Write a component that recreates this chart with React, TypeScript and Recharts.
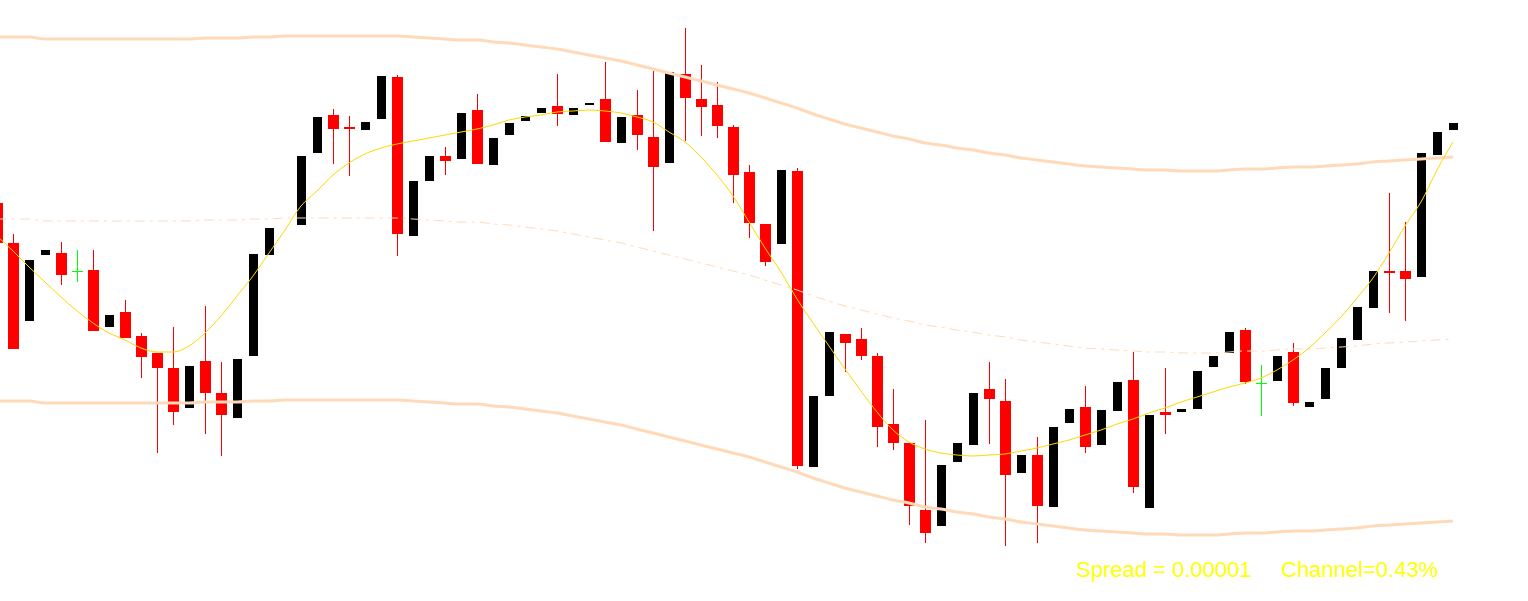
import React from "react";
import { ComposedChart, Bar, Line, XAxis, YAxis } from "recharts";

// slot index of each bar (slot -1 is the partly visible bar on the left edge; slot 17 has no bar)
const slots: number[] = Array.from({ length: 92 }, (_, i) => i - 1);

const opens: (number | null)[] = [
  1.08397, 1.08357, 1.08279, 1.08345, 1.08347, 1.08329, 1.0833, 1.08273, 1.08288, 1.08264,
  1.08247, 1.08232, 1.08192, 1.08239, 1.08207, 1.08182, 1.08244, 1.08345, null, 1.08375,
  1.08447, 1.08485, 1.08473, 1.0847, 1.08481, 1.08523, 1.08364, 1.08419, 1.08444, 1.08441,
  1.0849, 1.08435, 1.08465, 1.08479, 1.08487, 1.08494, 1.08485, 1.08495, 1.08501, 1.08457,
  1.08485, 1.08463, 1.08437, 1.08526, 1.08501, 1.08495, 1.08473, 1.08428, 1.08376, 1.08356,
  1.08429, 1.08133, 1.08204, 1.08266, 1.08261, 1.08244, 1.08176, 1.08157, 1.0809, 1.08074,
  1.08138, 1.08155, 1.08211, 1.08199, 1.08127, 1.08145, 1.08093, 1.08177, 1.08193, 1.08155,
  1.08189, 1.0822, 1.08092, 1.08188, 1.08188, 1.08191, 1.08233, 1.08247, 1.0827, 1.08217,
  1.08219, 1.08248, 1.08193, 1.08201, 1.08232, 1.0826, 1.08292, 1.08329, 1.08329, 1.08323,
  1.08445, 1.0847,
];

const highs: (number | null)[] = [
  1.08397, 1.08366, 1.0834, 1.0835, 1.08358, 1.0835, 1.0835, 1.08285, 1.083, 1.08267,
  1.08247, 1.08273, 1.08234, 1.08294, 1.08238, 1.08241, 1.08346, 1.08372, null, 1.08444,
  1.08483, 1.08491, 1.08484, 1.08478, 1.08524, 1.08525, 1.08419, 1.08444, 1.08453, 1.08487,
  1.08506, 1.08462, 1.08477, 1.08484, 1.08492, 1.08526, 1.08492, 1.08497, 1.08538, 1.08483,
  1.0851, 1.08529, 1.08528, 1.08572, 1.08535, 1.08518, 1.08475, 1.08435, 1.08376, 1.0843,
  1.08432, 1.08204, 1.08268, 1.08266, 1.08272, 1.08247, 1.08211, 1.08157, 1.0818, 1.08135,
  1.08157, 1.08207, 1.08238, 1.08221, 1.08145, 1.08163, 1.08173, 1.08191, 1.08214, 1.0819,
  1.08218, 1.08248, 1.08185, 1.08232, 1.08191, 1.08229, 1.08244, 1.08268, 1.08272, 1.08235,
  1.08244, 1.08257, 1.08198, 1.08232, 1.08262, 1.08293, 1.08329, 1.08407, 1.08378, 1.08447,
  1.08468, 1.08477,
];

const lows: (number | null)[] = [
  1.08357, 1.08251, 1.08279, 1.08345, 1.08315, 1.08318, 1.08269, 1.08273, 1.08262, 1.08222,
  1.08147, 1.08175, 1.08192, 1.08166, 1.08144, 1.08182, 1.08244, 1.08345, null, 1.08375,
  1.08447, 1.08436, 1.08424, 1.0847, 1.08481, 1.08344, 1.08364, 1.08419, 1.08425, 1.08441,
  1.08436, 1.08435, 1.08465, 1.08479, 1.08487, 1.08474, 1.08485, 1.08495, 1.08458, 1.08457,
  1.0845, 1.08369, 1.08437, 1.08459, 1.08464, 1.08462, 1.08397, 1.08362, 1.08334, 1.08356,
  1.08131, 1.08133, 1.08204, 1.08228, 1.0824, 1.08153, 1.0815, 1.08075, 1.08057, 1.08074,
  1.08138, 1.08155, 1.08156, 1.08054, 1.08127, 1.08057, 1.08093, 1.08177, 1.08147, 1.08155,
  1.08189, 1.08107, 1.08092, 1.08166, 1.08188, 1.08191, 1.08233, 1.08247, 1.08216, 1.08184,
  1.08219, 1.08194, 1.08193, 1.08201, 1.08232, 1.0826, 1.08292, 1.08287, 1.08279, 1.08323,
  1.08445, 1.0847,
];

const closes: (number | null)[] = [
  1.08357, 1.08251, 1.0834, 1.0835, 1.08325, 1.08329, 1.08269, 1.08285, 1.08262, 1.08243,
  1.08232, 1.08188, 1.08234, 1.08207, 1.08185, 1.08241, 1.08346, 1.08372, null, 1.08444,
  1.08483, 1.08471, 1.08471, 1.08478, 1.08524, 1.08366, 1.08419, 1.08444, 1.08439, 1.08487,
  1.08436, 1.08462, 1.08477, 1.08484, 1.08492, 1.08486, 1.08492, 1.08497, 1.08458, 1.08483,
  1.08465, 1.08433, 1.08528, 1.08502, 1.08493, 1.08474, 1.08425, 1.08377, 1.08338, 1.0843,
  1.08134, 1.08204, 1.08268, 1.08257, 1.08244, 1.08173, 1.08157, 1.08094, 1.08067, 1.08135,
  1.08157, 1.08207, 1.08201, 1.08125, 1.08145, 1.08094, 1.08173, 1.08191, 1.08153, 1.0819,
  1.08218, 1.08113, 1.08185, 1.08185, 1.08191, 1.08229, 1.08244, 1.08268, 1.08218, 1.08217,
  1.08244, 1.08197, 1.08198, 1.08232, 1.08262, 1.08293, 1.08329, 1.08327, 1.08321, 1.08447,
  1.08468, 1.08477,
];

const upperBand: number[] = [
  1.08563, 1.08563, 1.08563, 1.08561, 1.08561, 1.08561, 1.08561, 1.08561, 1.08561, 1.08561,
  1.08561, 1.08561, 1.08561, 1.08562, 1.08562, 1.08562, 1.08563, 1.08563, 1.08564, 1.08564,
  1.08564, 1.08564, 1.08564, 1.08564, 1.08564, 1.08564, 1.08563, 1.08562, 1.08561, 1.0856,
  1.0856, 1.08558, 1.08557, 1.08555, 1.08553, 1.08551, 1.08548, 1.08545, 1.08542, 1.08539,
  1.08535, 1.08531, 1.08527, 1.08523, 1.08519, 1.08515, 1.08511, 1.08507, 1.08502, 1.08497,
  1.08492, 1.08486, 1.08481, 1.08476, 1.08472, 1.08468, 1.08464, 1.08461, 1.08457, 1.08455,
  1.08452, 1.0845, 1.08447, 1.08445, 1.08442, 1.0844, 1.08438, 1.08436, 1.08434, 1.08433,
  1.08432, 1.08431, 1.0843, 1.0843, 1.08429, 1.08429, 1.08429, 1.0843, 1.08431, 1.08431,
  1.08432, 1.08433, 1.08433, 1.08434, 1.08435, 1.08436, 1.08438, 1.08439, 1.0844, 1.08441,
  1.08442, 1.08443,
];

const midBand: number[] = [
  1.08381, 1.08381, 1.08381, 1.08379, 1.08379, 1.08379, 1.08379, 1.08379, 1.08379, 1.08379,
  1.08379, 1.08379, 1.08379, 1.0838, 1.0838, 1.0838, 1.08381, 1.08381, 1.08382, 1.08382,
  1.08382, 1.08382, 1.08382, 1.08382, 1.08382, 1.08382, 1.08381, 1.0838, 1.08379, 1.08378,
  1.08378, 1.08376, 1.08375, 1.08373, 1.08371, 1.08369, 1.08366, 1.08363, 1.0836, 1.08357,
  1.08353, 1.08349, 1.08345, 1.08341, 1.08337, 1.08333, 1.08329, 1.08325, 1.0832, 1.08315,
  1.0831, 1.08304, 1.08299, 1.08294, 1.0829, 1.08286, 1.08282, 1.08279, 1.08275, 1.08273,
  1.0827, 1.08268, 1.08265, 1.08263, 1.0826, 1.08258, 1.08256, 1.08254, 1.08252, 1.08251,
  1.0825, 1.08249, 1.08248, 1.08248, 1.08247, 1.08247, 1.08247, 1.08248, 1.08249, 1.08249,
  1.0825, 1.08251, 1.08251, 1.08252, 1.08253, 1.08254, 1.08256, 1.08257, 1.08258, 1.08259,
  1.0826, 1.08261,
];

const lowerBand: number[] = [
  1.08199, 1.08199, 1.08199, 1.08197, 1.08197, 1.08197, 1.08197, 1.08197, 1.08197, 1.08197,
  1.08197, 1.08197, 1.08197, 1.08198, 1.08198, 1.08198, 1.08199, 1.08199, 1.082, 1.082,
  1.082, 1.082, 1.082, 1.082, 1.082, 1.082, 1.08199, 1.08198, 1.08197, 1.08196,
  1.08196, 1.08194, 1.08193, 1.08191, 1.08189, 1.08187, 1.08184, 1.08181, 1.08178, 1.08175,
  1.08171, 1.08167, 1.08163, 1.08159, 1.08155, 1.08151, 1.08147, 1.08143, 1.08138, 1.08133,
  1.08128, 1.08122, 1.08117, 1.08112, 1.08108, 1.08104, 1.081, 1.08097, 1.08093, 1.08091,
  1.08088, 1.08086, 1.08083, 1.08081, 1.08078, 1.08076, 1.08074, 1.08072, 1.0807, 1.08069,
  1.08068, 1.08067, 1.08066, 1.08066, 1.08065, 1.08065, 1.08065, 1.08066, 1.08067, 1.08067,
  1.08068, 1.08069, 1.08069, 1.0807, 1.08071, 1.08072, 1.08074, 1.08075, 1.08076, 1.08077,
  1.08078, 1.08079,
];

const maLine: number[] = [
  1.08364, 1.08349, 1.08333, 1.08318, 1.08303, 1.08289, 1.08277, 1.08267, 1.0826, 1.08252,
  1.08248, 1.08248, 1.08254, 1.08267, 1.08284, 1.08304, 1.08324, 1.08347, 1.0837, 1.08394,
  1.08409, 1.08425, 1.08437, 1.08446, 1.08452, 1.08456, 1.08459, 1.08462, 1.08465, 1.08468,
  1.08471, 1.08475, 1.0848, 1.08483, 1.08485, 1.08488, 1.08489, 1.0849, 1.08489, 1.08487,
  1.08483, 1.08478, 1.08468, 1.08458, 1.08443, 1.08425, 1.08404, 1.08378, 1.08352, 1.08328,
  1.08301, 1.08277, 1.08254, 1.08231, 1.08209, 1.08188, 1.0817, 1.08158, 1.08151, 1.08147,
  1.08145, 1.08144, 1.08145, 1.08146, 1.08149, 1.08152, 1.08156, 1.0816, 1.08165, 1.0817,
  1.08176, 1.08181, 1.08187, 1.08192, 1.08198, 1.08203, 1.08208, 1.08213, 1.08217, 1.08222,
  1.0823, 1.0824, 1.08252, 1.08267, 1.08283, 1.08302, 1.08322, 1.08347, 1.08374, 1.08398,
  1.0843, 1.08458,
];

const spreadLabel = "Spread = 0.00001";
const channelLabel = "Channel=0.43%";

const RED = "#FF0000";
const BLACK = "#000000";
const GREEN = "#00FF00";
const BAND = "#FFDAB9";
const MA_COLOR = "#FFD700";

const data = slots.map((s, i) => ({
  slot: s,
  open: opens[i],
  high: highs[i],
  low: lows[i],
  close: closes[i],
  range: highs[i] == null || lows[i] == null ? null : [lows[i], highs[i]],
  upper: upperBand[i],
  mid: midBand[i],
  lower: lowerBand[i],
  ma: maLine[i],
}));

const Candle = (props: any) => {
  const { x, y, width, height, payload } = props;
  if (!payload || payload.high == null) return null;
  const { open, close, high, low } = payload;
  // snap to the pixel grid of the 16px slot
  const start = Math.round(x + width / 2 - 8);
  const span = high - low;
  const k = span > 0 ? height / span : 0;
  const yOf = (v: number) => Math.round(y + (high - v) * k);
  const top = yOf(Math.max(open, close));
  const bottom = yOf(Math.min(open, close));
  const wTop = yOf(high);
  const wBot = yOf(low);
  if (open === close) {
    return (
      <g shapeRendering="crispEdges">
        <rect x={start + 7} y={wTop} width={1} height={Math.max(1, wBot - wTop)} fill={GREEN} />
        <rect x={start + 2} y={top} width={11} height={1} fill={GREEN} />
      </g>
    );
  }
  if (close > open) {
    return (
      <rect shapeRendering="crispEdges" x={start + 3} y={top} width={9} height={Math.max(1, bottom - top)} fill={BLACK} />
    );
  }
  return (
    <g shapeRendering="crispEdges">
      <rect x={start + 7} y={wTop} width={1} height={Math.max(1, wBot - wTop)} fill={RED} />
      <rect x={start + 2} y={top} width={11} height={Math.max(1, bottom - top)} fill={RED} />
    </g>
  );
};

export default function App() {
  return (
    <div style={{ position: "absolute", left: 0, top: 0, width: 1528, height: 601, overflow: "hidden", background: "#FFFFFF" }}>
      <div style={{ position: "absolute", left: -11, top: 0 }}>
        <ComposedChart
          width={1539}
          height={601}
          data={data}
          margin={{ top: 0, right: 67, bottom: 0, left: 0 }}
        >
          <XAxis dataKey="slot" hide />
          <YAxis hide type="number" domain={[1.07999, 1.086]} allowDataOverflow />
          <Bar dataKey="range" barSize={15} shape={<Candle />} isAnimationActive={false} />
          <Line type="monotone" dataKey="upper" stroke={BAND} strokeWidth={3} dot={false} activeDot={false} isAnimationActive={false} />
          <Line type="monotone" dataKey="lower" stroke={BAND} strokeWidth={3} dot={false} activeDot={false} isAnimationActive={false} />
          <Line type="monotone" dataKey="mid" stroke={BAND} strokeWidth={1} strokeDasharray="10 5 3 5" dot={false} activeDot={false} isAnimationActive={false} />
          <Line type="monotone" dataKey="ma" stroke={MA_COLOR} strokeWidth={1} dot={false} activeDot={false} isAnimationActive={false} />
        </ComposedChart>
      </div>
      <svg width={1528} height={601} style={{ position: "absolute", left: 0, top: 0, pointerEvents: "none" }}>
        <text x={1076} y={577} fill="#FFFF00" fontFamily="'Liberation Sans', Arial, sans-serif" fontSize={22}>
          {spreadLabel}
        </text>
        <text x={1281} y={577} fill="#FFFF00" fontFamily="'Liberation Sans', Arial, sans-serif" fontSize={22}>
          {channelLabel}
        </text>
      </svg>
    </div>
  );
}
